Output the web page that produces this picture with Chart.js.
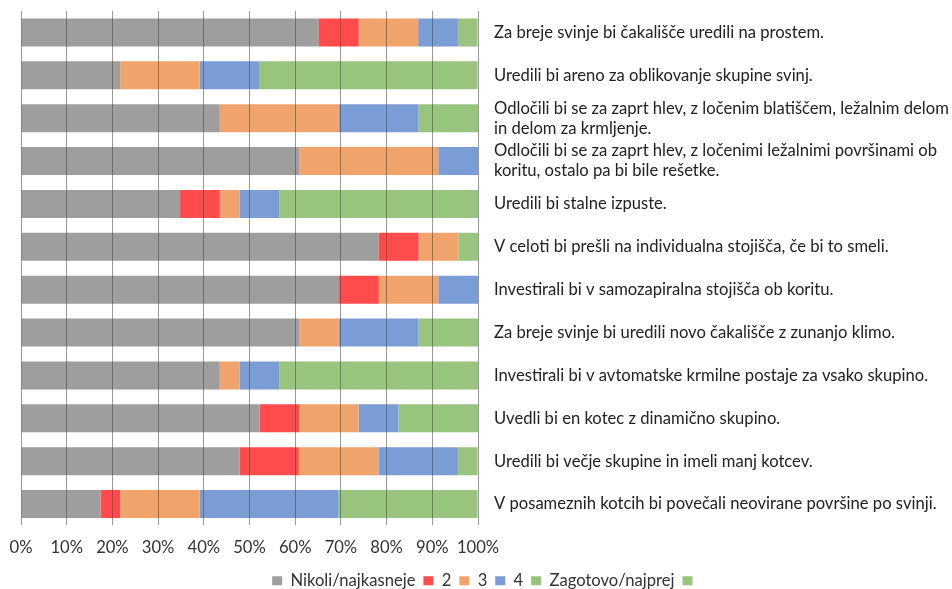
<!DOCTYPE html>
<html>
<head>
<meta charset="utf-8">
<script src="https://cdn.jsdelivr.net/npm/chart.js@4/dist/chart.umd.min.js"></script>
<style>
	html, body { margin: 0; padding: 0; background: #fff; }
	#wrap { width: 952px; height: 589px; }
</style>
</head>
<body>
<div id="wrap"><canvas id="chart" width="952" height="589"></canvas></div>
<script>
// odgovori na vprašanja (delež v %)
const categories = [
	"Za breje svinje bi čakališče uredili na prostem.",
	"Uredili bi areno za oblikovanje skupine svinj.",
	["Odločili bi se za zaprt hlev, z ločenim blatiščem, ležalnim delom", "in delom za krmljenje."],
	["Odločili bi se za zaprt hlev, z ločenimi ležalnimi površinami ob", "koritu, ostalo pa bi bile rešetke."],
	"Uredili bi stalne izpuste.",
	"V celoti bi prešli na individualna stojišča, če bi to smeli.",
	"Investirali bi v samozapiralna stojišča ob koritu.",
	"Za breje svinje bi uredili novo čakališče z zunanjo klimo.",
	"Investirali bi v avtomatske krmilne postaje za vsako skupino.",
	"Uvedli bi en kotec z dinamično skupino.",
	"Uredili bi večje skupine in imeli manj kotcev.",
	"V posameznih kotcih bi povečali neovirane površine po svinji.",
];

const nikoli = [65.2, 21.7, 43.5, 60.9, 34.8, 78.3, 69.6, 60.9, 43.5, 52.2, 47.8, 17.4];
const ocena2 = [8.7, 0, 0, 0, 8.7, 8.7, 8.7, 0, 0, 8.7, 13.0, 4.3];
const ocena3 = [13.0, 17.4, 26.1, 30.4, 4.3, 8.7, 13.0, 8.7, 4.3, 13.0, 17.4, 17.4];
const ocena4 = [8.7, 13.0, 17.4, 8.7, 8.7, 0, 8.7, 17.4, 8.7, 8.7, 17.4, 30.4];
const zagotovo = [4.3, 47.8, 13.0, 0, 43.5, 4.3, 0, 13.0, 43.5, 17.4, 4.3, 30.4];

const xTicks = ["0%", "10%", "20%", "30%", "40%", "50%", "60%", "70%", "80%", "90%", "100%"];

const FONT = "Lato, Carlito, Calibri, sans-serif";
const FSIZE = 16.6;

function ds(label, data, color) {
	return {
		label: label,
		data: data,
		backgroundColor: color,
		borderWidth: 0,
		barPercentage: 0.655,
		categoryPercentage: 1.0,
	};
}

const config = {
	type: "bar",
	data: {
		labels: categories,
		datasets: [
			ds("Nikoli/najkasneje", nikoli, "#9e9e9e"),
			ds("2", ocena2, "#ff4b4b"),
			ds("3", ocena3, "#f0a46c"),
			ds("4", ocena4, "#7a9dd5"),
			ds("Zagotovo/najprej", zagotovo, "#99c47d"),
			ds("", [], "#99c47d"),
		],
	},
	options: {
		indexAxis: "y",
		responsive: false,
		animation: false,
		layout: { padding: { left: 21, right: 0, top: 11, bottom: -10 } },
		scales: {
			x: {
				stacked: true,
				min: 0,
				max: 100,
				position: "bottom",
				grid: {
					z: 1,
					color: "rgba(70,70,70,0.55)",
					lineWidth: 1,
					drawTicks: false,
				},
				border: { display: false },
				ticks: {
					stepSize: 10,
					padding: 12,
					maxRotation: 0,
					minRotation: 0,
					autoSkip: false,
					color: "#333",
					font: { family: FONT, size: FSIZE },
					callback: (v, i) => xTicks[i],
				},
				afterFit: (scale) => {
					scale.paddingLeft = 0;
					scale.paddingRight = 0;
					scale.height -= 5;
				},
			},
			y: {
				stacked: true,
				position: "right",
				grid: { display: false },
				border: { display: false },
				ticks: {
					autoSkip: false,
					padding: 8,
					color: "#222",
					font: { family: FONT, size: FSIZE, lineHeight: 1.2 },
				},
				afterFit: (scale) => {
					scale.width = 474;
					scale.paddingTop = 0;
					scale.paddingBottom = 0;
				},
			},
		},
		plugins: {
			legend: {
				position: "bottom",
				labels: {
					boxWidth: 10,
					boxHeight: 9,
					padding: 8,
					color: "#333",
					font: { family: FONT, size: FSIZE },
				},
			},
			tooltip: { enabled: false },
		},
	},
};

const chart = new Chart(document.getElementById("chart"), config);
</script>
</body>
</html>
